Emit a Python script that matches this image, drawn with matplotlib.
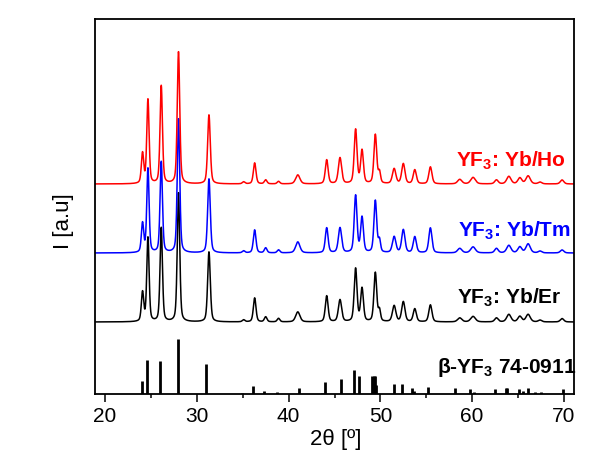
import numpy as np
import matplotlib
matplotlib.use("Agg")
import matplotlib.pyplot as plt
from matplotlib.ticker import MultipleLocator

plt.rcParams['font.family'] = ['Liberation Sans', 'DejaVu Sans']
plt.rcParams['mathtext.fontset'] = 'custom'
plt.rcParams['mathtext.rm'] = 'Liberation Sans'
plt.rcParams['mathtext.bf'] = 'Liberation Sans:bold'

# ---- data ----
peak_pos = [24.08, 24.67, 26.12, 28.0, 31.32, 35.1, 36.3, 37.5, 38.9, 41.0,
            44.15, 45.6, 47.3, 48.0, 49.45, 49.9, 51.5, 52.5, 53.75, 55.45,
            58.65, 60.1, 62.65, 64.0, 65.2, 66.1, 67.4, 69.8]
peak_fwhm = [0.3, 0.3, 0.31, 0.32, 0.34, 0.34, 0.34, 0.34, 0.34, 0.55,
             0.36, 0.42, 0.36, 0.36, 0.36, 0.28, 0.44, 0.42, 0.4, 0.4,
             0.55, 0.6, 0.45, 0.55, 0.5, 0.55, 0.45, 0.45]
heights_ho = [30, 84, 98, 132, 69, 2, 21, 4, 2.5, 9, 24, 26, 54, 33, 49, 11, 15, 20, 14, 17,
              4.5, 6.5, 4, 7.5, 6, 8, 1.8, 4]
heights_tm = [29, 84, 91, 134, 74, 2, 23, 5, 3, 11, 25, 25, 57, 35, 52, 12, 16, 23, 16, 25,
              4.5, 6, 4.5, 7.5, 6, 9, 1.8, 3]
heights_er = [29, 84, 94, 129, 70, 2, 24, 5, 3.5, 10, 26, 22, 53, 33, 49, 11, 16, 20, 13, 17,
              4, 5.5, 4, 7.5, 5.5, 7.5, 1.8, 3.4]
offset_ho = 210
offset_tm = 141
offset_er = 72

ref_pos = [24.0, 24.55, 26.0, 27.9, 31.0, 34.9, 36.1, 37.3, 38.7, 41.1, 43.65, 44.0,
           45.7, 47.1, 47.7, 49.1, 49.3, 49.45, 49.55, 51.45, 52.4, 53.5, 53.7, 55.15,
           58.1, 59.75, 60.2, 62.45, 63.65, 63.8, 65.1, 65.5, 66.05, 66.8, 67.5, 69.9]
ref_h = [13.5, 34.5, 33.5, 55.5, 30, 1, 7.7, 3.3, 1.7, 5.8, 1, 12.3,
         15.3, 24, 18, 18.5, 18.5, 18, 9, 10, 10, 5.7, 3, 7.5,
         5.7, 4.7, 2.5, 4.7, 5.7, 5.7, 4.7, 3, 5.7, 2, 2, 4.7]

labels = ['YF$_\\mathbf{3}$: Yb/Ho', 'YF$_\\mathbf{3}$: Yb/Tm', 'YF$_\\mathbf{3}$: Yb/Er',
          '\u03b2-YF$_\\mathbf{3}$ 74-0911']
colors = ['#ff0000', '#0000ff', '#000000']


def profile(x, pos, fwhm, h, eta=0.4):
    y = np.zeros_like(x)
    for p, w, a in zip(pos, fwhm, h):
        g = np.exp(-4 * np.log(2) * ((x - p) / w) ** 2)
        l = 1.0 / (1 + 4 * ((x - p) / w) ** 2)
        y += a * ((1 - eta) * g + eta * l)
    return y


fig = plt.figure(figsize=(5.95, 4.55), dpi=100)
ax = fig.add_axes([95 / 595, 1 - 394 / 455, (574 - 95) / 595, (394 - 19) / 455])

x = np.linspace(18.9, 71.1, 5000)
for hts, off, c in zip([heights_er, heights_tm, heights_ho],
                       [offset_er, offset_tm, offset_ho],
                       [colors[2], colors[1], colors[0]]):
    ax.plot(x, off + profile(x, peak_pos, peak_fwhm, hts), color=c, lw=1.1)

ax.vlines(ref_pos, 0, ref_h, color='black', lw=2.0)

ax.set_xlim(18.9, 71.1)
ax.set_ylim(0, 375)
ax.set_yticks([])
ax.xaxis.set_major_locator(MultipleLocator(10))
ax.xaxis.set_minor_locator(MultipleLocator(5))
ax.tick_params(axis='x', which='major', direction='out', length=5.5, width=1.1,
               labelsize=15, pad=3.5)
ax.tick_params(axis='x', which='minor', direction='out', length=3, width=1.1)
for s in ax.spines.values():
    s.set_linewidth(1.3)

def px2x(px):
    return 20 + (px - 104.9) / 9.17

def py2y(py):
    return 394 - py

ax.text(px2x(456), py2y(166), labels[0], color=colors[0], fontsize=15, fontweight='bold')
ax.text(px2x(457.5), py2y(236), labels[1], color=colors[1], fontsize=15, fontweight='bold')
ax.text(px2x(456.5), py2y(303), labels[2], color=colors[2], fontsize=15, fontweight='bold')
ax.text(px2x(437), py2y(373), labels[3], color='black', fontsize=15, fontweight='bold')

fig.text(336 / 595, 1 - 440 / 455, '2\u03b8 [\u00ba]', ha='center', va='center', fontsize=16)
fig.text(63 / 595, 1 - 221 / 455, 'I [a.u]', ha='center', va='center', rotation=90, fontsize=16)

fig.savefig('out.png', dpi=100)
